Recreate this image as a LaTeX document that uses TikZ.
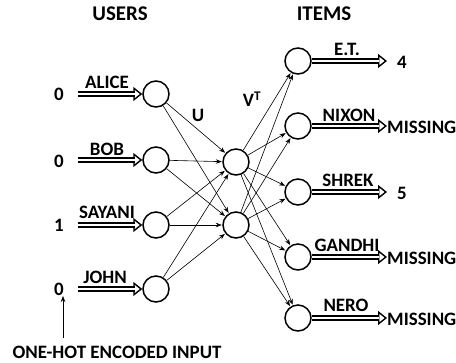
\documentclass[tikz,border=0pt]{standalone}
\usepackage{fontspec}
\setmainfont{Carlito}
\usetikzlibrary{arrows.meta}
\begin{document}
\begin{tikzpicture}[x=1bp,y=-1bp,
  neuron/.style={circle, draw, line width=1.5bp, minimum size=26bp, inner sep=0pt},
  conn/.style={-{Stealth[length=6bp,width=4.5bp]}, line width=0.6bp, shorten >=0.5bp},
  dbl/.style={double, double distance=2.6bp, line width=1.5bp},
  tiphead/.style={line width=1.4bp, -{Triangle[open, fill=white, length=9bp, width=14bp]}},
  txt/.style={font=\fontsize{19}{21}\selectfont\bfseries, inner sep=0pt},
  head/.style={font=\fontsize{21}{23}\selectfont\bfseries, inner sep=0pt}]
\useasboundingbox (0,0) rectangle (456,362);

% headers
\node[head] (users) at (120,14) {USERS};
\node[head] (items) at (324,14) {ITEMS};

% input neurons
\node[neuron] (a1) at (156,94) {};
\node[neuron] (a2) at (156,160) {};
\node[neuron] (a3) at (156,225) {};
\node[neuron] (a4) at (156,289) {};

% hidden neurons
\node[neuron] (h1) at (236,162) {};
\node[neuron] (h2) at (236,225) {};

% output neurons
\node[neuron] (o1) at (298,61) {};
\node[neuron] (o2) at (298,126) {};
\node[neuron] (o3) at (298,192) {};
\node[neuron] (o4) at (298,257) {};
\node[neuron] (o5) at (298,318) {};

% input values and labels
\node[txt] (v1) at (59,94) {0};
\node[txt] (v2) at (59,161) {0};
\node[txt] (v3) at (59,225) {1};
\node[txt] (v4) at (59,289) {0};
\node[txt] (l1) at (107,82) {ALICE};
\node[txt] (l2) at (107,149) {BOB};
\node[txt] (l3) at (107,212) {SAYANI};
\node[txt] (l4) at (105,277) {JOHN};
\coordinate (s1) at (78,94);
\coordinate (s2) at (78,160);
\coordinate (s3) at (78,225);
\coordinate (s4) at (78,289);
\foreach \i in {1,...,4} {
  \draw[tiphead] ([xshift=-9bp]a\i.west) -- (a\i.west);
  \draw[dbl] (s\i) -- ([xshift=-7.6bp]a\i.west);
}

% output labels and values
\node[txt] (m1) at (347,49) {E.T.};
\node[txt] (m2) at (349,115) {NIXON};
\node[txt] (m3) at (348,180) {SHREK};
\node[txt] (m4) at (347,245) {GANDHI};
\node[txt] (m5) at (346,305) {NERO};
\coordinate (e1) at (387,61);
\coordinate (e2) at (387,126);
\coordinate (e3) at (387,192);
\coordinate (e4) at (387,257);
\coordinate (e5) at (387,318);
\foreach \i in {1,...,5} {
  \draw[tiphead] ([xshift=-9bp]e\i) -- (e\i);
  \draw[dbl] (o\i.east) -- ([xshift=-7.6bp]e\i);
}
\node[txt] (r1) at (402,62) {4};
\node[txt, anchor=west] (r2) at (387,127) {MISSING};
\node[txt] (r3) at (402,193) {5};
\node[txt, anchor=west] (r4) at (387,258) {MISSING};
\node[txt, anchor=west] (r5) at (387,319) {MISSING};

% weights labels
\node[txt] (U) at (198,115) {U};
\node[txt] (VT) at (252,99) {V\textsuperscript{T}};

% connections
\foreach \i in {1,...,4} \foreach \j in {1,2} \draw[conn] (a\i) -- (h\j);
\foreach \j in {1,2} \foreach \k in {1,...,5} \draw[conn] (h\j) -- (o\k);

% one-hot note
\node[txt] (note) at (117,352) {ONE-HOT ENCODED INPUT};
\coordinate (nb) at (63,338);
\draw[conn] (nb) -- (nb |- v4.south);
\end{tikzpicture}
\end{document}
